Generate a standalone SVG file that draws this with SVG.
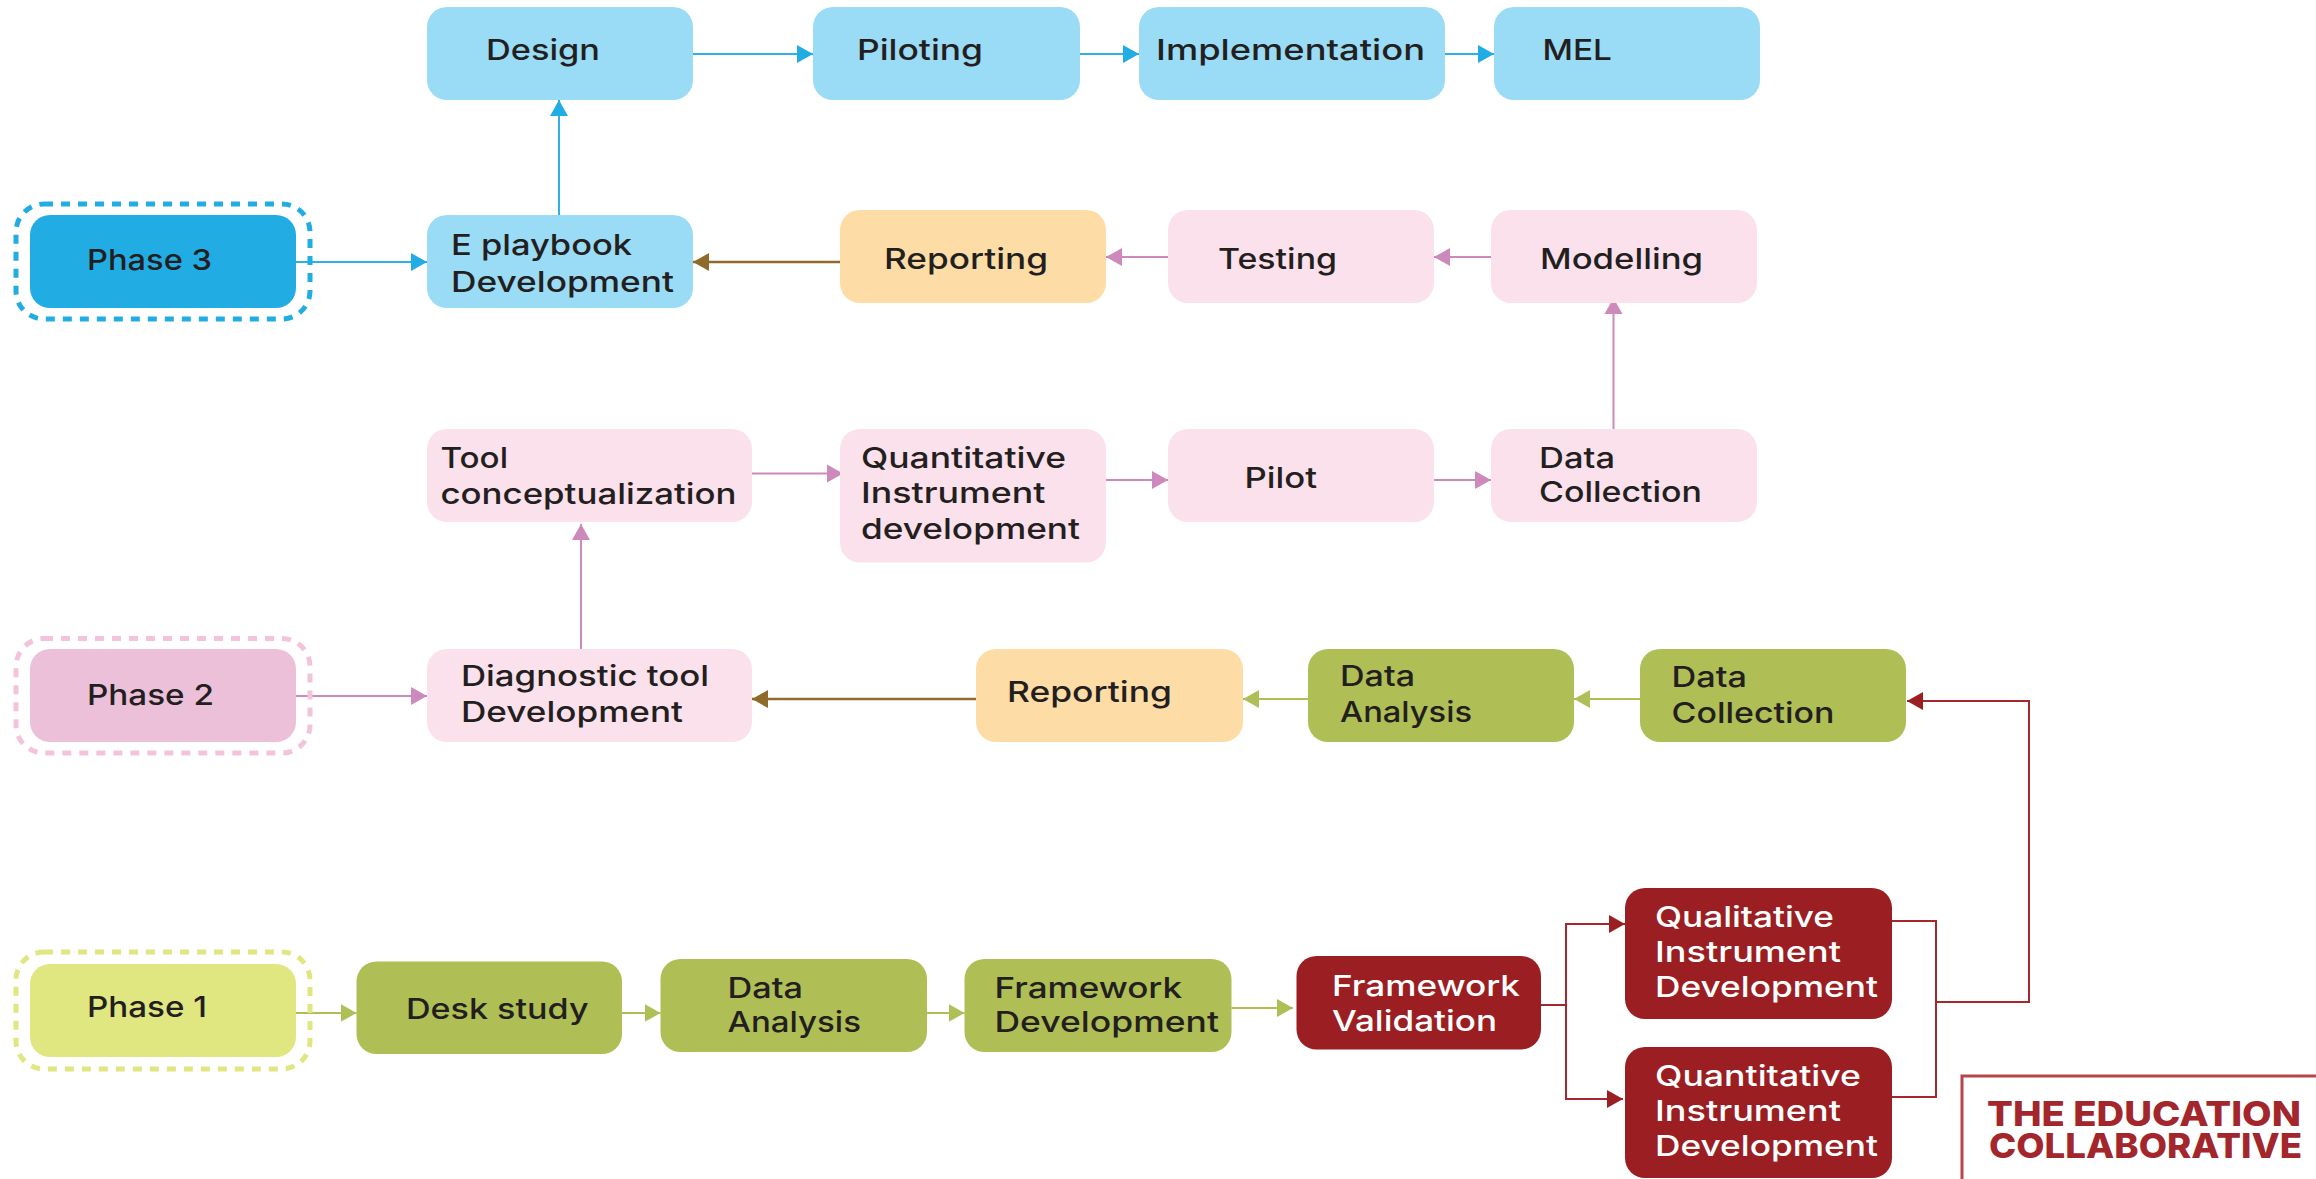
<svg xmlns="http://www.w3.org/2000/svg" width="2316" height="1179" viewBox="0 0 2316 1179">
<style>
.t{font-family:"Inter","Noto Sans","Liberation Sans",sans-serif;font-size:29px;font-weight:500;fill:#231f20;transform:translate(-1px,-1px)}
.w{fill:#fff}
.lg{font-family:"Inter","Noto Sans","Liberation Sans",sans-serif;font-size:34px;font-weight:800;fill:#a3262c}
.lb{fill:#9adbf5}.bl{fill:#22ace4}.pk{fill:#fbe1ec}.p2{fill:#edc0da}.or{fill:#fedca6}.gr{fill:#afbe55}.p1{fill:#e0e680}.rd{fill:#9b1f22}
.ds{fill:none;stroke-width:5;stroke-dasharray:9 8}
.c{fill:none;stroke-width:2}
.cb{stroke:#2db1e6;marker-end:url(#mb)}.cp{stroke:#cd89bb;marker-end:url(#mp)}.cg{stroke:#afbe55;marker-end:url(#mg)}.cn{stroke:#8f6a2a;stroke-width:2.500;marker-end:url(#mn)}.cr{stroke:#a4282d;marker-end:url(#mr)}.cx{stroke:#a4282d}
</style>
<defs>
<marker id="mb" markerUnits="userSpaceOnUse" markerWidth="16" markerHeight="20" refX="16" refY="10" orient="auto"><path d="M0 1L16 10L0 19Z" fill="#22ace4"/></marker>
<marker id="mp" markerUnits="userSpaceOnUse" markerWidth="16" markerHeight="20" refX="16" refY="10" orient="auto"><path d="M0 1L16 10L0 19Z" fill="#cd89bb"/></marker>
<marker id="mg" markerUnits="userSpaceOnUse" markerWidth="16" markerHeight="20" refX="16" refY="10" orient="auto"><path d="M0 1L16 10L0 19Z" fill="#afbe55"/></marker>
<marker id="mn" markerUnits="userSpaceOnUse" markerWidth="16" markerHeight="20" refX="16" refY="10" orient="auto"><path d="M0 1L16 10L0 19Z" fill="#8f6a2a"/></marker>
<marker id="mr" markerUnits="userSpaceOnUse" markerWidth="16" markerHeight="20" refX="16" refY="10" orient="auto"><path d="M0 1L16 10L0 19Z" fill="#9b1f22"/></marker>
</defs>
<rect width="2316" height="1179" fill="#fff"/>
<g id="connectors">
<path class="c cb" d="M693 54H813"/>
<path class="c cb" d="M1080 54H1139"/>
<path class="c cb" d="M1445 54H1494"/>
<path class="c cb" d="M559 215V100"/>
<path class="c cb" d="M296 262H427"/>
<path class="c cn" d="M840 262H693"/>
<path class="c cp" d="M1168 257H1106"/>
<path class="c cp" d="M1491 257H1434"/>
<path class="c cp" d="M1613.500 429V298"/>
<path class="c cp" d="M748 473.500H843"/>
<path class="c cp" d="M1106 480H1168"/>
<path class="c cp" d="M1434 480H1491"/>
<path class="c cp" d="M581 649V524"/>
<path class="c cp" d="M296 696H427"/>
<path class="c cn" d="M976 699H752"/>
<path class="c cg" d="M1308 699H1243"/>
<path class="c cg" d="M1640 699H1574"/>
<path class="c cg" d="M296 1013H356.500"/>
<path class="c cg" d="M622 1013H660.500"/>
<path class="c cg" d="M927 1013H964.500"/>
<path class="c cg" d="M1231.500 1008H1293"/>
<path class="c cx" d="M1541 1005H1566"/>
<path class="c cr" d="M1566 1005V924H1625"/>
<path class="c cr" d="M1566 1005V1099H1623"/>
<path class="c cx" d="M1892 921H1936V1097H1892"/>
<path class="c cr" d="M1936 1002H2029V701H1907"/>
</g>
<g id="node-design"><rect class="lb" x="427" y="7" width="266" height="93" rx="20"/><text class="t" x="487" y="61" textLength="114" lengthAdjust="spacingAndGlyphs">Design</text></g>
<g id="node-piloting"><rect class="lb" x="813" y="7" width="267" height="93" rx="20"/><text class="t" x="858" y="61" textLength="126" lengthAdjust="spacingAndGlyphs">Piloting</text></g>
<g id="node-implementation"><rect class="lb" x="1139" y="7" width="306" height="93" rx="20"/><text class="t" x="1157" y="61" textLength="269" lengthAdjust="spacingAndGlyphs">Implementation</text></g>
<g id="node-mel"><rect class="lb" x="1494" y="7" width="266" height="93" rx="20"/><text class="t" x="1543.500" y="61" textLength="69.500" lengthAdjust="spacingAndGlyphs">MEL</text></g>
<g id="node-phase3"><rect class="ds" stroke="#22ace4" x="16" y="204" width="294" height="115" rx="28"/><rect class="bl" x="30" y="215" width="266" height="93" rx="20"/><text class="t" x="88" y="271" textLength="125" lengthAdjust="spacingAndGlyphs">Phase 3</text></g>
<g id="node-eplaybook"><rect class="lb" x="427" y="215" width="266" height="93" rx="20"/><text class="t" x="452" y="255.500" textLength="181" lengthAdjust="spacingAndGlyphs">E playbook</text><text class="t" x="452" y="293" textLength="223" lengthAdjust="spacingAndGlyphs">Development</text></g>
<g id="node-reporting3"><rect class="or" x="840" y="210" width="266" height="93" rx="20"/><text class="t" x="885" y="270" textLength="164" lengthAdjust="spacingAndGlyphs">Reporting</text></g>
<g id="node-testing"><rect class="pk" x="1168" y="210" width="266" height="93" rx="20"/><text class="t" x="1219" y="270" textLength="119" lengthAdjust="spacingAndGlyphs">Testing</text></g>
<g id="node-modelling"><rect class="pk" x="1491" y="210" width="266" height="93" rx="20"/><text class="t" x="1541" y="270" textLength="163" lengthAdjust="spacingAndGlyphs">Modelling</text></g>
<g id="node-tool"><rect class="pk" x="427" y="429" width="325" height="93" rx="20"/><text class="t" x="441.500" y="469" textLength="67.500" lengthAdjust="spacingAndGlyphs">Tool</text><text class="t" x="441.500" y="505" textLength="296" lengthAdjust="spacingAndGlyphs">conceptualization</text></g>
<g id="node-quant-dev"><rect class="pk" x="840" y="429" width="266" height="133.500" rx="20"/><text class="t" x="862" y="469" textLength="205" lengthAdjust="spacingAndGlyphs">Quantitative</text><text class="t" x="862" y="504" textLength="184.500" lengthAdjust="spacingAndGlyphs">Instrument</text><text class="t" x="862" y="539.500" textLength="219" lengthAdjust="spacingAndGlyphs">development</text></g>
<g id="node-pilot"><rect class="pk" x="1168" y="429" width="266" height="93" rx="20"/><text class="t" x="1245.500" y="489" textLength="72.500" lengthAdjust="spacingAndGlyphs">Pilot</text></g>
<g id="node-datacollection2"><rect class="pk" x="1491" y="429" width="266" height="93" rx="20"/><text class="t" x="1540" y="469" textLength="76" lengthAdjust="spacingAndGlyphs">Data</text><text class="t" x="1540" y="503" textLength="163" lengthAdjust="spacingAndGlyphs">Collection</text></g>
<g id="node-phase2"><rect class="ds" stroke="#f3c3dc" x="16" y="638.500" width="294" height="114.500" rx="28"/><rect class="p2" x="30" y="649" width="266" height="93" rx="20"/><text class="t" x="88" y="706" textLength="127" lengthAdjust="spacingAndGlyphs">Phase 2</text></g>
<g id="node-diagnostic"><rect class="pk" x="427" y="649" width="325" height="93" rx="20"/><text class="t" x="462" y="687" textLength="248" lengthAdjust="spacingAndGlyphs">Diagnostic tool</text><text class="t" x="462" y="723" textLength="222" lengthAdjust="spacingAndGlyphs">Development</text></g>
<g id="node-reporting2"><rect class="or" x="976" y="649" width="267" height="93" rx="20"/><text class="t" x="1008" y="703" textLength="165" lengthAdjust="spacingAndGlyphs">Reporting</text></g>
<g id="node-dataanalysis2"><rect class="gr" x="1308" y="649" width="266" height="93" rx="20"/><text class="t" x="1341" y="687" textLength="75" lengthAdjust="spacingAndGlyphs">Data</text><text class="t" x="1341" y="722.500" textLength="132" lengthAdjust="spacingAndGlyphs">Analysis</text></g>
<g id="node-datacollection1"><rect class="gr" x="1640" y="649" width="266" height="93" rx="20"/><text class="t" x="1672.500" y="688" textLength="75.500" lengthAdjust="spacingAndGlyphs">Data</text><text class="t" x="1672.500" y="724" textLength="163" lengthAdjust="spacingAndGlyphs">Collection</text></g>
<g id="node-phase1"><rect class="ds" stroke="#e0e680" x="16" y="952" width="294" height="117" rx="28"/><rect class="p1" x="30" y="964" width="266" height="93" rx="20"/><text class="t" x="88" y="1018" textLength="120" lengthAdjust="spacingAndGlyphs">Phase 1</text></g>
<g id="node-desk"><rect class="gr" x="356.500" y="961.500" width="265.500" height="92.500" rx="20"/><text class="t" x="407" y="1020" textLength="182.500" lengthAdjust="spacingAndGlyphs">Desk study</text></g>
<g id="node-dataanalysis1"><rect class="gr" x="660.500" y="959" width="266.500" height="93" rx="20"/><text class="t" x="728.500" y="999" textLength="75.500" lengthAdjust="spacingAndGlyphs">Data</text><text class="t" x="728.500" y="1033" textLength="133.500" lengthAdjust="spacingAndGlyphs">Analysis</text></g>
<g id="node-framework"><rect class="gr" x="964.500" y="959" width="267" height="93" rx="20"/><text class="t" x="995.500" y="999" textLength="187.500" lengthAdjust="spacingAndGlyphs">Framework</text><text class="t" x="995.500" y="1033" textLength="224.500" lengthAdjust="spacingAndGlyphs">Development</text></g>
<g id="node-validation"><rect class="rd" x="1296.500" y="956" width="244.500" height="93.500" rx="20"/><text class="t w" x="1333" y="997" textLength="188" lengthAdjust="spacingAndGlyphs">Framework</text><text class="t w" x="1333" y="1032" textLength="165" lengthAdjust="spacingAndGlyphs">Validation</text></g>
<g id="node-qualitative"><rect class="rd" x="1625" y="888" width="267" height="131" rx="20"/><text class="t w" x="1656" y="928" textLength="179" lengthAdjust="spacingAndGlyphs">Qualitative</text><text class="t w" x="1656" y="963" textLength="186" lengthAdjust="spacingAndGlyphs">Instrument</text><text class="t w" x="1656" y="998" textLength="223" lengthAdjust="spacingAndGlyphs">Development</text></g>
<g id="node-quantitative"><rect class="rd" x="1625" y="1047" width="267" height="131" rx="20"/><text class="t w" x="1656" y="1087" textLength="206" lengthAdjust="spacingAndGlyphs">Quantitative</text><text class="t w" x="1656" y="1122" textLength="186" lengthAdjust="spacingAndGlyphs">Instrument</text><text class="t w" x="1656" y="1157" textLength="223" lengthAdjust="spacingAndGlyphs">Development</text></g>
<g id="logo"><path d="M2316 1076H1962V1179" fill="none" stroke="#b5474b" stroke-width="3"/><text class="lg" x="1987" y="1126" textLength="314" lengthAdjust="spacingAndGlyphs">THE EDUCATION</text><text class="lg" x="1989" y="1158" textLength="313" lengthAdjust="spacingAndGlyphs">COLLABORATIVE</text></g>
</svg>
